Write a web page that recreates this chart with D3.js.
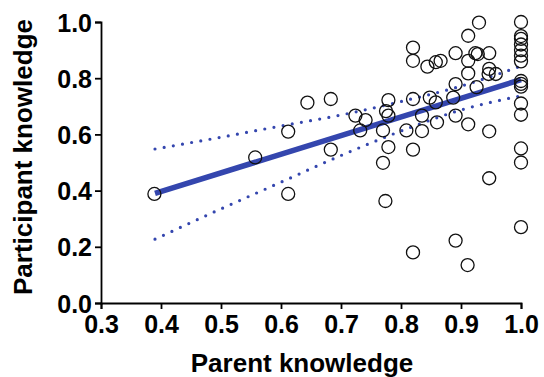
<!DOCTYPE html>
<html>
<head>
<meta charset="utf-8">
<script src="https://cdn.jsdelivr.net/npm/d3@7"></script>
<style>
  body { margin: 0; background: #fff; }
  text { font-family: "Liberation Sans", Arial, sans-serif; font-weight: bold; }
</style>
</head>
<body>
<div></div>
<script>
// tamaño del lienzo
var w = 544
var h = 377

// datos (x = padre, y = participante)
var parentKnowledge = [
  0.389, 0.557, 0.612, 0.612, 0.644, 0.683, 0.683, 0.724, 0.741, 0.732,
  0.779, 0.775, 0.779, 0.770, 0.779, 0.770, 0.774, 0.820, 0.820, 0.820,
  0.809, 0.835, 0.835, 0.820, 0.820, 0.844, 0.858, 0.866, 0.848, 0.858,
  0.860, 0.891, 0.891, 0.887, 0.891, 0.891, 0.912, 0.930, 0.912, 0.912,
  0.924, 0.928, 0.926, 0.912, 0.911, 0.947, 0.947, 0.946, 0.958, 0.947,
  0.947,
  1.0, 1.0, 1.0, 1.0, 1.0, 1.0, 1.0, 1.0, 1.0, 1.0, 1.0, 1.0, 1.0, 1.0, 1.0
]
var participantKnowledge = [
  0.388, 0.518, 0.388, 0.610, 0.713, 0.726, 0.546, 0.667, 0.651, 0.614,
  0.722, 0.683, 0.667, 0.614, 0.555, 0.499, 0.363, 0.909, 0.862, 0.726,
  0.614, 0.667, 0.612, 0.546, 0.180, 0.841, 0.857, 0.862, 0.731, 0.714,
  0.643, 0.889, 0.779, 0.731, 0.667, 0.222, 0.951, 0.998, 0.862, 0.817,
  0.889, 0.886, 0.768, 0.636, 0.135, 0.889, 0.833, 0.815, 0.815, 0.611,
  0.444,
  1.0, 0.95, 0.94, 0.92, 0.90, 0.88, 0.86, 0.79, 0.78, 0.77, 0.71, 0.67, 0.55, 0.50, 0.27
]

// recta de regresion y banda de confianza
var fitX = [0.39, 1.0]
var fitY = [0.39, 0.795]
var ciX = [0.39, 0.5, 0.6, 0.7, 0.8, 0.9, 1.0]
var ciUpper = [0.548, 0.590, 0.630, 0.669, 0.717, 0.772, 0.843]
var ciLower = [0.227, 0.335, 0.430, 0.525, 0.612, 0.687, 0.737]

// ticks
var xTicks = [0.3, 0.4, 0.5, 0.6, 0.7, 0.8, 0.9, 1.0]
var yTicks = [0.0, 0.2, 0.4, 0.6, 0.8, 1.0]

var blue = '#3446ae'

var svg = d3.select('div')
    .append('svg')
    .attr('width', w)
    .attr('height', h)

var x = d3.scaleLinear().domain([0.3, 1.0]).range([101, 521])
var y = d3.scaleLinear().domain([0, 1.0]).range([303, 22])

// ejes
var xAxis = svg.append('g')
    .attr('transform', 'translate(0,303)')
    .call(d3.axisBottom(x).tickValues(xTicks).tickFormat(d3.format('.1f')).tickSize(6).tickPadding(4))
var yAxis = svg.append('g')
    .attr('transform', 'translate(101,0)')
    .call(d3.axisLeft(y).tickValues(yTicks).tickFormat(d3.format('.1f')).tickSize(6).tickPadding(3))

svg.selectAll('.domain, .tick line')
    .attr('stroke', '#000')
    .attr('stroke-width', 1.8)
svg.selectAll('.tick text')
    .attr('fill', '#000')
    .style('font-size', '25px')
xAxis.selectAll('.tick text').attr('dy', '0.78em')
yAxis.selectAll('.tick text').attr('dy', '0.36em')

// titulos
svg.append('text')
    .attr('x', 302)
    .attr('y', 372)
    .attr('text-anchor', 'middle')
    .style('font-size', '26px')
    .text('Parent knowledge')

svg.append('text')
    .attr('transform', 'translate(32,157) rotate(-90)')
    .attr('text-anchor', 'middle')
    .style('font-size', '26px')
    .text('Participant knowledge')

// banda de confianza punteada
var ciLine = d3.line()
    .x((d) => x(d[0]))
    .y((d) => y(d[1]))
    .curve(d3.curveMonotoneX)

;[ciUpper, ciLower].forEach(function(band) {
    svg.append('path')
        .attr('d', ciLine(ciX.map((v, i) => [v, band[i]])))
        .attr('fill', 'none')
        .attr('stroke', blue)
        .attr('stroke-width', 3.2)
        .attr('stroke-linecap', 'round')
        .attr('stroke-dasharray', '0 9.3')
})

// recta de regresion
svg.append('path')
    .attr('d', d3.line().x((d) => x(d[0])).y((d) => y(d[1]))(fitX.map((v, i) => [v, fitY[i]])))
    .attr('stroke', blue)
    .attr('stroke-width', 5.5)
    .attr('fill', 'none')

// puntos
svg.selectAll('circle')
    .data(parentKnowledge.map((v, i) => [v, participantKnowledge[i]]))
    .enter()
    .append('circle')
    .attr('cx', (d) => x(d[0]))
    .attr('cy', (d) => y(d[1]))
    .attr('r', 6.5)
    .attr('fill', 'none')
    .attr('stroke', '#111')
    .attr('stroke-width', 1.3)
</script>
</body>
</html>
